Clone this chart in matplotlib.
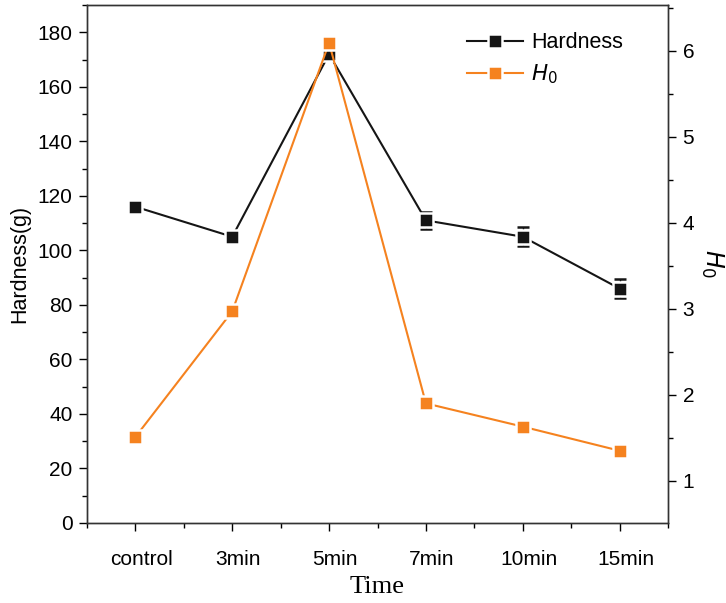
import matplotlib
matplotlib.use("Agg")
import matplotlib.pyplot as plt
import matplotlib.transforms as mtransforms
from matplotlib.ticker import MultipleLocator
from matplotlib.lines import Line2D

categories = ["control", "3min", "5min", "7min", "10min", "15min"]
hardness = [116, 105, 172, 111, 105, 86]
hardness_err = [1.5, 1.5, 2.0, 3.0, 3.5, 3.5]
h0 = [1.51, 2.97, 6.09, 1.90, 1.63, 1.35]

black = "#151515"
orange = "#f5821f"

plt.rcParams['font.family'] = ['Liberation Sans', 'DejaVu Sans']
fig = plt.figure(figsize=(7.26, 6.03), dpi=100)
ax = fig.add_axes([87/726, 1-523/603, (668-87)/726, (523-5)/603])
x = list(range(len(categories)))

ax.errorbar(x, hardness, yerr=hardness_err, color=black, marker="s", markersize=10.5,
            markeredgecolor="white", markeredgewidth=1.8, linewidth=1.5, capsize=4,
            elinewidth=1.0, ecolor=black, zorder=3)
ax.set_xlim(-0.5, 5.5)
ax.set_ylim(0, 190)
ax.set_xticks(x)
ax.set_xticklabels(categories)
ax.set_xticks([i + 0.5 for i in range(-1, 6)], minor=True)
ax.yaxis.set_major_locator(MultipleLocator(20))
ax.yaxis.set_minor_locator(MultipleLocator(10))
ax.tick_params(axis="both", which="major", length=5.5, width=1, labelsize=15, direction="out")
ax.tick_params(axis="y", which="major", pad=5)
ax.tick_params(axis="x", which="major", pad=14)
ax.tick_params(axis="both", which="minor", length=3.5, width=1, direction="out")
ax.set_ylabel("Hardness(g)", fontsize=15.5, labelpad=5)
ax.set_xlabel("Time", fontsize=19, family=["Liberation Serif", "DejaVu Serif"], labelpad=5)

shift = mtransforms.ScaledTranslation(6/100, 0, fig.dpi_scale_trans)
for lbl in ax.get_xticklabels():
    lbl.set_transform(lbl.get_transform() + shift)

ax2 = ax.twinx()
ax2.plot(x, h0, color=orange, marker="s", markersize=10.5, markeredgecolor="white",
         markeredgewidth=1.8, linewidth=1.5, zorder=3)
ax2.set_ylim(0.51, 6.53)
ax2.yaxis.set_major_locator(MultipleLocator(1))
ax2.yaxis.set_minor_locator(MultipleLocator(0.5))
ax2.tick_params(axis="y", which="major", length=5.5, width=1, labelsize=15, direction="out", pad=5)
ax2.tick_params(axis="y", which="minor", length=3.5, width=1, direction="out")
ax2.set_ylabel("$H_0$", fontsize=17, rotation=270, labelpad=22)

for a in (ax, ax2):
    for s in a.spines.values():
        s.set_linewidth(1.0)
        s.set_color("#333333")

h1 = Line2D([], [], color=black, marker="s", markersize=10.5, markeredgecolor="white",
            markeredgewidth=1.8, linewidth=1.5)
h2 = Line2D([], [], color=orange, marker="s", markersize=10.5, markeredgecolor="white",
            markeredgewidth=1.8, linewidth=1.5)
ax2.legend([h1, h2], ["Hardness", "$H_0$"], loc="upper left", bbox_to_anchor=(0.62, 0.985),
           frameon=False, fontsize=15.5, handlelength=2.6, handletextpad=0.4, labelspacing=0.45)

fig.savefig("out.png", dpi=100)
